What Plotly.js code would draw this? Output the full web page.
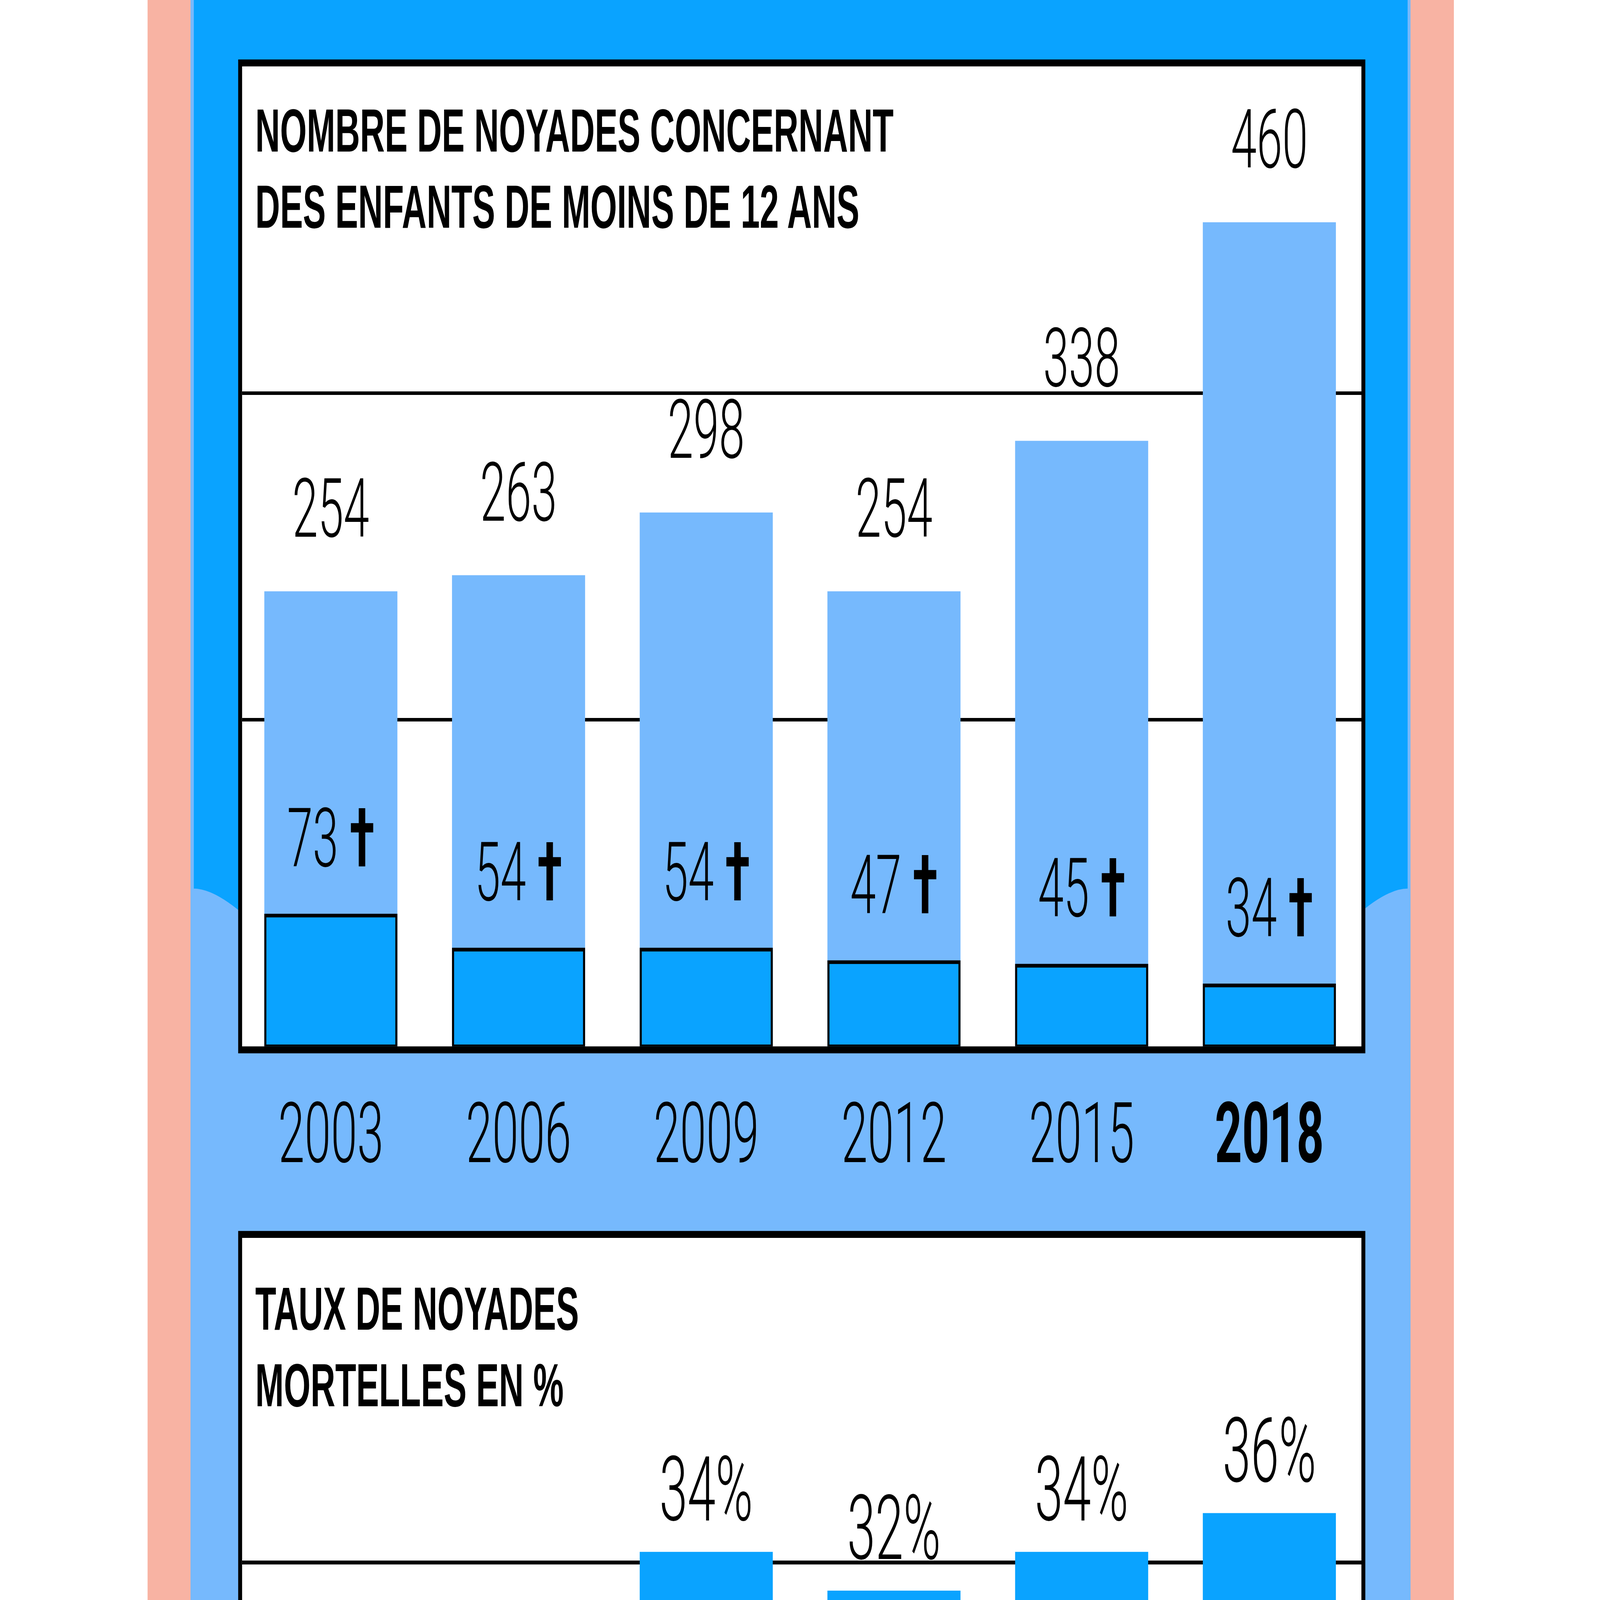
<!DOCTYPE html>
<html>
<head>
<meta charset="utf-8">
<script src="https://cdn.plot.ly/plotly-3.0.1.min.js"></script>
<style>
  html, body { margin: 0; padding: 0; background: #ffffff; overflow: hidden; }
  #chart { position: absolute; left: 0; top: 0; width: 7752px; height: 4361px; transform-origin: 0 0; }
</style>
</head>
<body>
<div id="chart"></div>
<script>
// ---- data ----
const years = ['2003', '2006', '2009', '2012', '2015', '2018'];
const yearLabels = ['2003', '2006', '2009', '2012', '2015', '<b>2018</b>'];
const totalDrownings = [254, 263, 298, 254, 338, 460];
const deaths = [73, 54, 54, 47, 45, 34];
const fatalRate = [null, null, 34, 32, 34, 36];

// ---- geometry: drawn at the reference size 7752 x 4361, then fitted to the window ----
const W = 7752, H = 4361;
const vw = window.innerWidth || W, vh = window.innerHeight || H;
document.getElementById('chart').style.transform = `scale(${vw / W}, ${vh / H})`;

const fx = p => p / W;
const fy = p => 1 - p / H;
const PINK = '#f8b3a3';
const LIGHT = '#76b9fd';
const DARK = '#0aa3ff';
const NUMFAMILY = 'Roboto, "Liberation Sans", sans-serif';
const numFont = size => ({ family: NUMFAMILY, weight: 300, size: size, color: '#000000' });
const TITLEFONT = { family: '"Liberation Sans", Arial, sans-serif', weight: 700, size: 166, color: '#000000' };

const traces = [
  { type: 'bar', name: 'Noyades', x: years, y: totalDrownings, xaxis: 'x', yaxis: 'y', width: 0.709,
    marker: { color: LIGHT, line: { width: 0 } }, hoverinfo: 'skip' },
  { type: 'bar', name: 'Décès', x: years, y: deaths, xaxis: 'x', yaxis: 'y', width: 0.698,
    marker: { color: DARK, line: { width: 10, color: '#000000' } }, hoverinfo: 'skip' },
  { type: 'bar', name: 'Taux', x: years, y: fatalRate, xaxis: 'x2', yaxis: 'y2', width: 0.709,
    marker: { color: DARK, line: { width: 0 } }, hoverinfo: 'skip' }
];

const annotations = [];
years.forEach((yr, i) => {
  annotations.push({ xref: 'x', yref: 'y', x: i, y: totalDrownings[i], text: String(totalDrownings[i]),
    showarrow: false, xanchor: 'center', yanchor: 'bottom', yshift: 92, font: numFont(224) });
  annotations.push({ xref: 'x', yref: 'y', x: i, y: deaths[i], text: deaths[i] + ' <b>†</b>',
    showarrow: false, xanchor: 'center', yanchor: 'bottom', yshift: 77, font: numFont(224) });
  if (fatalRate[i] !== null) {
    annotations.push({ xref: 'x2', yref: 'y2', x: i, y: fatalRate[i], text: fatalRate[i] + '%',
      showarrow: false, xanchor: 'center', yanchor: 'bottom', yshift: 24, font: numFont(245) });
  }
});
// titles
[['NOMBRE DE NOYADES CONCERNANT', 261], ['DES ENFANTS DE MOINS DE 12 ANS', 469],
 ['TAUX DE NOYADES', 3472], ['MORTELLES EN %', 3681]].forEach(([t, top]) => {
  annotations.push({ xref: 'paper', yref: 'paper', x: fx(1235), y: fy(top), text: t,
    showarrow: false, xanchor: 'left', yanchor: 'top', align: 'left', font: TITLEFONT });
});

const shapes = [
  { type: 'rect', xref: 'paper', yref: 'paper', x0: fx(715), x1: fx(7044), y0: fy(-20), y1: fy(H + 20),
    fillcolor: PINK, line: { width: 0 }, layer: 'below' },
  { type: 'rect', xref: 'paper', yref: 'paper', x0: fx(923), x1: fx(6834), y0: fy(-20), y1: fy(H + 20),
    fillcolor: LIGHT, line: { width: 0 }, layer: 'below' },
  { type: 'path', xref: 'paper', yref: 'paper', layer: 'below', fillcolor: DARK, line: { width: 0 },
    path: `M ${fx(939)},${fy(-20)} L ${fx(6820)},${fy(-20)} L ${fx(6820)},${fy(2422)} ` +
          `Q ${fx(6659)},${fy(2422)} ${fx(6359)},${fy(2620)} L ${fx(1400)},${fy(2620)} ` +
          `Q ${fx(1100)},${fy(2422)} ${fx(939)},${fy(2422)} Z` },
  { type: 'rect', xref: 'paper', yref: 'paper', x0: fx(1163.5), x1: fx(6605.5), y0: fy(2861.5), y1: fy(171.5),
    fillcolor: '#ffffff', line: { width: 0 }, layer: 'below' },
  { type: 'rect', xref: 'paper', yref: 'paper', x0: fx(1163.5), x1: fx(6605.5), y0: fy(4600), y1: fy(3364.5),
    fillcolor: '#ffffff', line: { width: 0 }, layer: 'below' },
  { type: 'rect', xref: 'paper', yref: 'paper', x0: fx(1163.5), x1: fx(6605.5), y0: fy(2861.5), y1: fy(171.5),
    fillcolor: 'rgba(0,0,0,0)', line: { width: 19, color: '#000000' }, layer: 'above' },
  { type: 'rect', xref: 'paper', yref: 'paper', x0: fx(1163.5), x1: fx(6605.5), y0: fy(4600), y1: fy(3364.5),
    fillcolor: 'rgba(0,0,0,0)', line: { width: 19, color: '#000000' }, layer: 'above' }
];

const yMax1 = 547;
const yMax2 = 50.17;
const layout = {
  width: W, height: H,
  margin: { l: 0, r: 0, t: 0, b: 0, pad: 0 },
  paper_bgcolor: '#ffffff', plot_bgcolor: 'rgba(0,0,0,0)',
  showlegend: false, barmode: 'overlay',
  xaxis: { domain: [fx(1173), fx(6597)], anchor: 'y', type: 'category', range: [-0.4728, 5.4915],
    tickmode: 'array', tickvals: years, ticktext: yearLabels,
    ticks: 'outside', ticklen: 39, tickcolor: 'rgba(0,0,0,0)',
    tickfont: numFont(230),
    showgrid: false, zeroline: false, showline: false, fixedrange: true },
  yaxis: { domain: [fy(2852), fy(181)], anchor: 'x', range: [0, yMax1],
    tickmode: 'array', tickvals: [yMax1 / 3, 2 * yMax1 / 3], showticklabels: false, ticks: '',
    showgrid: true, gridcolor: '#000000', gridwidth: 10, zeroline: false, showline: false, fixedrange: true },
  xaxis2: { domain: [fx(1173), fx(6597)], anchor: 'y2', type: 'category', range: [-0.4728, 5.4915],
    showticklabels: false, ticks: '', showgrid: false, zeroline: false, showline: false, fixedrange: true },
  yaxis2: { domain: [0, fy(3376)], anchor: 'x2', range: [yMax2 - (H - 3376) / 52.8, yMax2],
    tickmode: 'array', tickvals: [yMax2 / 3, 2 * yMax2 / 3], showticklabels: false, ticks: '',
    showgrid: true, gridcolor: '#000000', gridwidth: 10, zeroline: false, showline: false, fixedrange: true },
  annotations: annotations,
  shapes: shapes
};

Plotly.newPlot('chart', traces, layout, { displayModeBar: false, staticPlot: true, responsive: false });
</script>
</body>
</html>
